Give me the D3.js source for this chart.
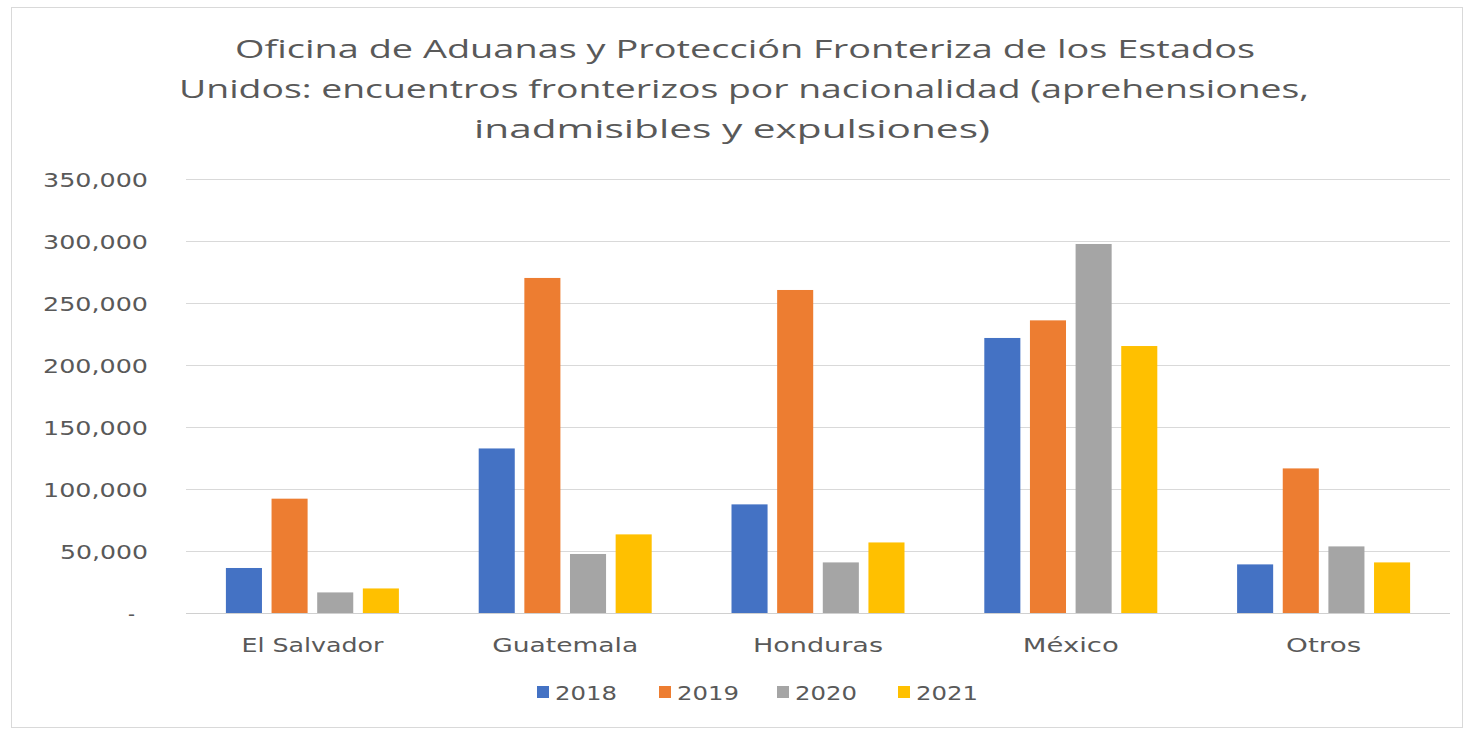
<!DOCTYPE html>
<html>
<head>
<meta charset="utf-8">
<script src="https://cdn.jsdelivr.net/npm/d3@7"></script>
<style>
  html, body { margin: 0; padding: 0; background: #ffffff; }
  svg { display: block; }
</style>
</head>
<body>
<svg id="chart" width="1476" height="732"></svg>
<script>
// ---- data ----
const categories = ["El Salvador", "Guatemala", "Honduras", "México", "Otros"];
const years = ["2018", "2019", "2020", "2021"];
const values2018 = [36300, 132700, 87600, 221800, 39200];
const values2019 = [92200, 270200, 260500, 236000, 116600];
const values2020 = [16600, 47600, 40800, 297600, 53700];
const values2021 = [19800, 63400, 56900, 215300, 40800];
const yTicks = [0, 50000, 100000, 150000, 200000, 250000, 300000, 350000];
const titleLines = [
  "Oficina de Aduanas y Protección Fronteriza de los Estados",
  "Unidos: encuentros fronterizos por nacionalidad (aprehensiones,",
  "inadmisibles y expulsiones)"
];
const colors = ["#4472C4", "#ED7D31", "#A5A5A5", "#FFC000"];

const seriesValues = [values2018, values2019, values2020, values2021];

const svg = d3.select("#chart");
const textColor = "#595959";

// chart border
svg.append("rect")
  .attr("x", 11.5).attr("y", 7.5)
  .attr("width", 1451).attr("height", 720)
  .attr("fill", "#ffffff")
  .attr("stroke", "#d9d9d9").attr("stroke-width", 1);

// title
const titleLayout = [
  { x: 235, y: 58, w: 1020 },
  { x: 179, y: 98, w: 1130 },
  { x: 474, y: 138, w: 516 }
];
svg.append("g").selectAll("text")
  .data(titleLines)
  .join("text")
  .attr("x", (d, i) => titleLayout[i].x)
  .attr("y", (d, i) => titleLayout[i].y)
  .attr("textLength", (d, i) => titleLayout[i].w)
  .attr("lengthAdjust", "spacingAndGlyphs")
  .attr("font-family", "'Open Sans', 'DejaVu Sans', sans-serif")
  .attr("font-size", 25)
  .attr("fill", textColor)
  .text(d => d);

// scales
const plotLeft = 186, plotRight = 1450;
const y = d3.scaleLinear().domain([0, 350000]).range([613, 179]);
const x0 = d3.scaleBand().domain(categories).range([plotLeft, plotRight]).paddingInner(0).paddingOuter(0);
const groupWidth = 173;
const x1 = d3.scaleBand().domain(years).range([0, groupWidth]).paddingInner(0.21).paddingOuter(0);
const groupOffset = (x0.bandwidth() - groupWidth) / 2;

// gridlines
svg.append("g")
  .selectAll("line")
  .data(yTicks)
  .join("line")
  .attr("x1", plotLeft).attr("x2", plotRight)
  .attr("y1", d => Math.round(y(d)) + 0.5)
  .attr("y2", d => Math.round(y(d)) + 0.5)
  .attr("stroke", d => d === 0 ? "#d0d0d0" : "#d9d9d9")
  .attr("stroke-width", 1.2);

// y axis labels
const yAxis = d3.axisLeft(y)
  .tickValues(yTicks)
  .tickSize(0)
  .tickPadding(0)
  .tickFormat(d => d === 0 ? "-" : d3.format(",")(d));
const yAxisG = svg.append("g")
  .attr("transform", "translate(148,0)")
  .call(yAxis);
yAxisG.select(".domain").remove();
yAxisG.selectAll("text")
  .attr("font-family", "'DejaVu Sans', Verdana, sans-serif")
  .attr("font-size", 20)
  .attr("fill", textColor)
  .attr("dy", "0.35em")
  .attr("x", d => d === 0 ? -13 : 0)
  .attr("textLength", d => d === 0 ? 7 : (d < 100000 ? 88 : 105))
  .attr("lengthAdjust", "spacingAndGlyphs");

// bars
const groups = svg.append("g")
  .selectAll("g")
  .data(categories)
  .join("g")
  .attr("transform", d => `translate(${x0(d) + groupOffset},0)`);

groups.selectAll("rect")
  .data((c, ci) => years.map((yr, si) => ({ year: yr, si: si, value: seriesValues[si][ci] })))
  .join("rect")
  .attr("x", d => x1(d.year))
  .attr("width", x1.bandwidth())
  .attr("y", d => y(d.value))
  .attr("height", d => y(0) - y(d.value))
  .attr("fill", d => colors[d.si]);

// x axis labels
const catWidths = { "El Salvador": 142, "Guatemala": 146, "Honduras": 130, "México": 96, "Otros": 75 };
const xAxis = d3.axisBottom(x0).tickSize(0).tickPadding(0);
const xAxisG = svg.append("g")
  .attr("transform", "translate(0,652)")
  .call(xAxis);
xAxisG.select(".domain").remove();
xAxisG.selectAll("text")
  .attr("dy", 0)
  .attr("font-family", "'DejaVu Sans', Verdana, sans-serif")
  .attr("font-size", 20)
  .attr("fill", textColor)
  .attr("textLength", d => catWidths[d])
  .attr("lengthAdjust", "spacingAndGlyphs");

// legend
const legendTextX = [555, 677, 795, 916];
const legend = svg.append("g").selectAll("g")
  .data(years)
  .join("g");
legend.append("rect")
  .attr("x", (d, i) => legendTextX[i] - 18)
  .attr("y", 686)
  .attr("width", 12).attr("height", 12)
  .attr("fill", (d, i) => colors[i]);
legend.append("text")
  .attr("x", (d, i) => legendTextX[i])
  .attr("y", 700)
  .attr("font-family", "'DejaVu Sans', Verdana, sans-serif")
  .attr("font-size", 20)
  .attr("fill", textColor)
  .attr("textLength", 62)
  .attr("lengthAdjust", "spacingAndGlyphs")
  .text(d => d);
</script>
</body>
</html>
